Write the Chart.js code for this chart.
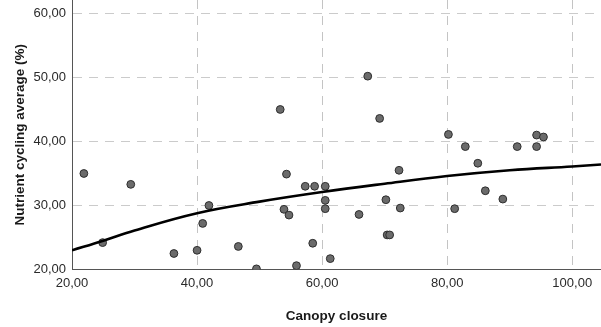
<!DOCTYPE html>
<html>
<head>
<meta charset="utf-8">
<script src="https://cdn.jsdelivr.net/npm/chart.js@4/dist/chart.umd.min.js"></script>
<style>
  html, body { margin: 0; padding: 0; background: #fff; }
  canvas { display: block; }
</style>
</head>
<body>
<canvas id="c" width="601" height="327"></canvas>
<script>
// ---- data ----
const canopyClosure = [21.9, 29.4, 24.9, 36.3, 40.0, 41.9, 40.9, 46.6, 49.5, 53.3,
  54.3, 53.9, 54.7, 55.9, 57.3, 58.8, 60.5, 60.5, 60.5, 58.5,
  61.3, 65.9, 67.3, 69.2, 70.2, 72.3, 72.5, 70.4, 70.8, 80.2,
  81.2, 82.9, 84.9, 86.1, 88.9, 91.2, 94.3, 95.4, 94.3];
const nutrientCycling = [35.0, 33.3, 24.2, 22.5, 23.0, 30.0, 27.2, 23.6, 20.1, 45.0,
  34.9, 29.4, 28.5, 20.6, 33.0, 33.0, 33.0, 30.8, 29.5, 24.1,
  21.7, 28.6, 50.2, 43.6, 30.9, 35.5, 29.6, 25.4, 25.4, 41.1,
  29.5, 39.2, 36.6, 32.3, 31.0, 39.2, 41.0, 40.7, 39.2];
const fitX = [20, 25, 30, 40, 50, 60, 70, 80, 90, 100, 104.6];
const fitY = [23.0, 24.5, 26.1, 28.8, 30.6, 32.1, 33.4, 34.6, 35.5, 36.1, 36.4];
const xTicks = [20, 40, 60, 80, 100];
const yTicks = [20, 30, 40, 50, 60];
const xTitle = 'Canopy closure';
const yTitle = 'Nutrient cycling average (%)';

const FONT = "'Liberation Sans', Arial, sans-serif";
const fmt = v => Number(v).toFixed(2).replace('.', ',');

const points = canopyClosure.map((x, i) => ({ x: x, y: nutrientCycling[i] }));
const fit = fitX.map((x, i) => ({ x: x, y: fitY[i] }));

new Chart(document.getElementById('c'), {
  type: 'scatter',
  data: {
    datasets: [
      {
        type: 'line',
        data: fit,
        borderColor: '#000',
        borderWidth: 2.6,
        pointRadius: 0,
        fill: false,
        tension: 0.4,
        order: 0
      },
      {
        type: 'scatter',
        data: points,
        backgroundColor: '#6b6b6b',
        borderColor: '#2e2e2e',
        borderWidth: 1,
        pointRadius: 3.9,
        order: 1
      }
    ]
  },
  options: {
    responsive: false,
    animation: false,
    layout: { padding: 0, autoPadding: false },
    plugins: { legend: { display: false }, tooltip: { enabled: false } },
    scales: {
      x: {
        type: 'linear',
        min: 20,
        max: 104.6,
        afterBuildTicks: s => { s.ticks = xTicks.map(v => ({ value: v })); },
        afterFit: s => { s.height = 57.5; s.paddingLeft = 0; s.paddingRight = 0; },
        ticks: {
          callback: fmt,
          color: '#2a2a2a',
          font: { family: FONT, size: 13 },
          padding: 6,
          maxRotation: 0
        },
        grid: { color: '#c4c4c4', lineWidth: 1, drawTicks: false },
        border: { display: true, color: '#555', width: 1, dash: [9, 7] },
        title: {
          display: true,
          text: xTitle,
          color: '#1a1a1a',
          font: { family: FONT, size: 13.5, weight: 'bold' },
          padding: { top: 0, bottom: 3 }
        }
      },
      y: {
        type: 'linear',
        min: 20,
        max: 62.1,
        afterBuildTicks: s => { s.ticks = yTicks.map(v => ({ value: v })); },
        afterFit: s => { s.width = 72; s.paddingTop = 0; s.paddingBottom = 0; },
        ticks: {
          callback: fmt,
          color: '#2a2a2a',
          font: { family: FONT, size: 13 },
          padding: 6
        },
        grid: { color: '#cbcbcb', lineWidth: 1, drawTicks: false },
        border: { display: true, color: '#555', width: 1, dash: [9, 7] },
        title: {
          display: true,
          text: yTitle,
          color: '#1a1a1a',
          font: { family: FONT, size: 13.5, weight: 'bold' },
          padding: { top: 12, bottom: 0 }
        }
      }
    }
  }
});
</script>
</body>
</html>
